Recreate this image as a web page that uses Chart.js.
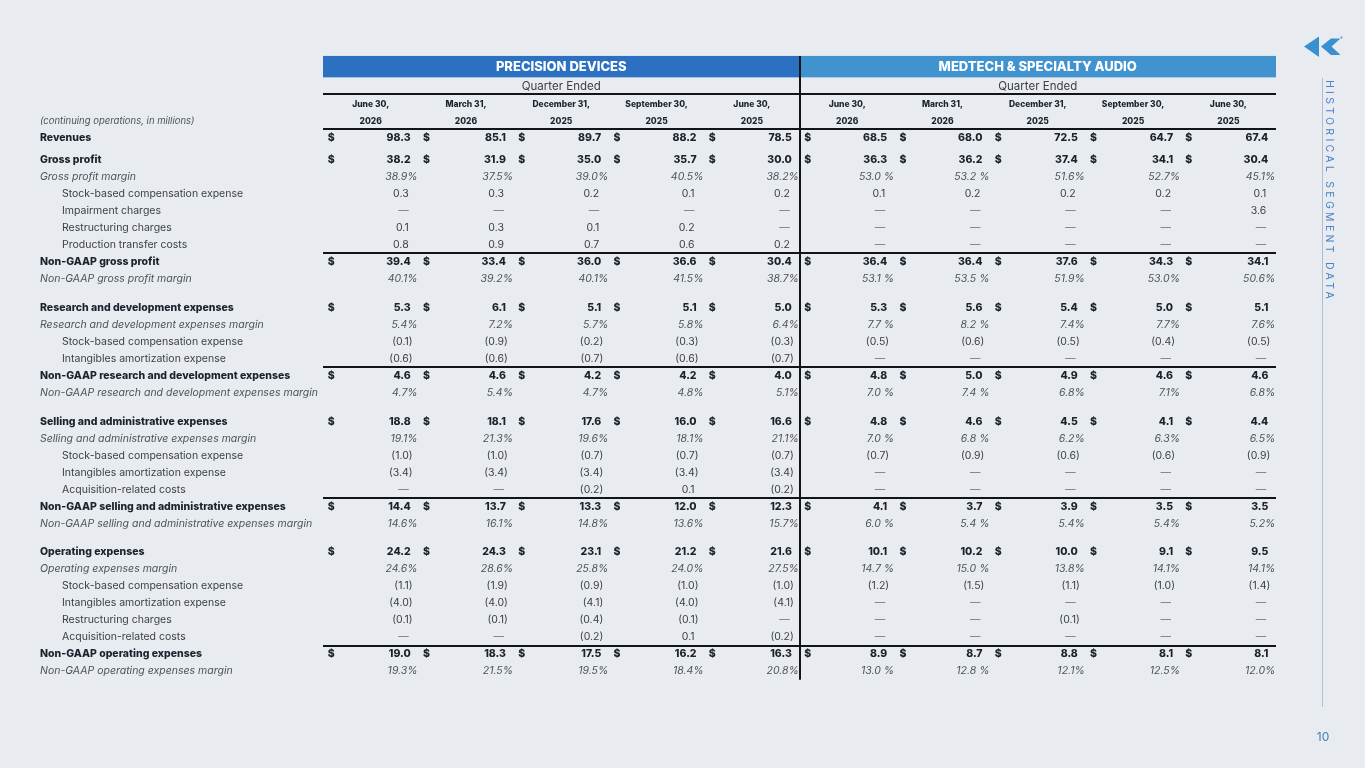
<!DOCTYPE html>
<html><head><meta charset="utf-8">
<script src="https://cdn.jsdelivr.net/npm/chart.js@4.4.1/dist/chart.umd.min.js"></script>
<style>
html,body{margin:0;padding:0;background:#e8ebf0;overflow:hidden;}
#wrap{position:relative;width:1365px;height:768px;}
</style></head><body>
<div id="wrap"><canvas id="c" width="1365" height="768"></canvas></div>
<script>
// ---------------- DATA ----------------
const segments = ['PRECISION DEVICES', 'MEDTECH & SPECIALTY AUDIO'];
const periodLabel = 'Quarter Ended';
const quarterDates = ['June 30,', 'March 31,', 'December 31,', 'September 30,', 'June 30,'];
const quarterYears = ['2026', '2026', '2025', '2025', '2025'];
const unitsNote = '(continuing operations, in millions)';
const sideTitle = 'HISTORICAL SEGMENT DATA';
const pageNumber = '10';

const rowLabels = [
  'Revenues',
  'Gross profit', 'Gross profit margin', 'Stock-based compensation expense', 'Impairment charges',
  'Restructuring charges', 'Production transfer costs', 'Non-GAAP gross profit', 'Non-GAAP gross profit margin',
  'Research and development expenses', 'Research and development expenses margin', 'Stock-based compensation expense',
  'Intangibles amortization expense', 'Non-GAAP research and development expenses', 'Non-GAAP research and development expenses margin',
  'Selling and administrative expenses', 'Selling and administrative expenses margin', 'Stock-based compensation expense',
  'Intangibles amortization expense', 'Acquisition-related costs', 'Non-GAAP selling and administrative expenses',
  'Non-GAAP selling and administrative expenses margin',
  'Operating expenses', 'Operating expenses margin', 'Stock-based compensation expense', 'Intangibles amortization expense',
  'Restructuring charges', 'Acquisition-related costs', 'Non-GAAP operating expenses', 'Non-GAAP operating expenses margin'
];
// 'total' = dollar amount, 'ratio' = percent of revenue, 'item' = adjustment line
const rowKinds = [
  'total',
  'total', 'ratio', 'item', 'item', 'item', 'item', 'total', 'ratio',
  'total', 'ratio', 'item', 'item', 'total', 'ratio',
  'total', 'ratio', 'item', 'item', 'item', 'total', 'ratio',
  'total', 'ratio', 'item', 'item', 'item', 'item', 'total', 'ratio'
];

// values: 5 quarters Precision Devices, then 5 quarters MedTech & Specialty Audio (null = dash)
const revenues        = [98.3, 85.1, 89.7, 88.2, 78.5,   68.5, 68.0, 72.5, 64.7, 67.4];
const grossProfit     = [38.2, 31.9, 35.0, 35.7, 30.0,   36.3, 36.2, 37.4, 34.1, 30.4];
const grossMargin     = [38.9, 37.5, 39.0, 40.5, 38.2,   53.0, 53.2, 51.6, 52.7, 45.1];
const gpStockComp     = [0.3, 0.3, 0.2, 0.1, 0.2,        0.1, 0.2, 0.2, 0.2, 0.1];
const gpImpairment    = [null, null, null, null, null,   null, null, null, null, 3.6];
const gpRestructuring = [0.1, 0.3, 0.1, 0.2, null,       null, null, null, null, null];
const gpTransfer      = [0.8, 0.9, 0.7, 0.6, 0.2,        null, null, null, null, null];
const ngGrossProfit   = [39.4, 33.4, 36.0, 36.6, 30.4,   36.4, 36.4, 37.6, 34.3, 34.1];
const ngGrossMargin   = [40.1, 39.2, 40.1, 41.5, 38.7,   53.1, 53.5, 51.9, 53.0, 50.6];
const rdExpenses      = [5.3, 6.1, 5.1, 5.1, 5.0,        5.3, 5.6, 5.4, 5.0, 5.1];
const rdMargin        = [5.4, 7.2, 5.7, 5.8, 6.4,        7.7, 8.2, 7.4, 7.7, 7.6];
const rdStockComp     = [-0.1, -0.9, -0.2, -0.3, -0.3,   -0.5, -0.6, -0.5, -0.4, -0.5];
const rdAmortization  = [-0.6, -0.6, -0.7, -0.6, -0.7,   null, null, null, null, null];
const ngRd            = [4.6, 4.6, 4.2, 4.2, 4.0,        4.8, 5.0, 4.9, 4.6, 4.6];
const ngRdMargin      = [4.7, 5.4, 4.7, 4.8, 5.1,        7.0, 7.4, 6.8, 7.1, 6.8];
const saExpenses      = [18.8, 18.1, 17.6, 16.0, 16.6,   4.8, 4.6, 4.5, 4.1, 4.4];
const saMargin        = [19.1, 21.3, 19.6, 18.1, 21.1,   7.0, 6.8, 6.2, 6.3, 6.5];
const saStockComp     = [-1.0, -1.0, -0.7, -0.7, -0.7,   -0.7, -0.9, -0.6, -0.6, -0.9];
const saAmortization  = [-3.4, -3.4, -3.4, -3.4, -3.4,   null, null, null, null, null];
const saAcquisition   = [null, null, -0.2, 0.1, -0.2,    null, null, null, null, null];
const ngSa            = [14.4, 13.7, 13.3, 12.0, 12.3,   4.1, 3.7, 3.9, 3.5, 3.5];
const ngSaMargin      = [14.6, 16.1, 14.8, 13.6, 15.7,   6.0, 5.4, 5.4, 5.4, 5.2];
const opExpenses      = [24.2, 24.3, 23.1, 21.2, 21.6,   10.1, 10.2, 10.0, 9.1, 9.5];
const opMargin        = [24.6, 28.6, 25.8, 24.0, 27.5,   14.7, 15.0, 13.8, 14.1, 14.1];
const opStockComp     = [-1.1, -1.9, -0.9, -1.0, -1.0,   -1.2, -1.5, -1.1, -1.0, -1.4];
const opAmortization  = [-4.0, -4.0, -4.1, -4.0, -4.1,   null, null, null, null, null];
const opRestructuring = [-0.1, -0.1, -0.4, -0.1, null,   null, null, -0.1, null, null];
const opAcquisition   = [null, null, -0.2, 0.1, -0.2,    null, null, null, null, null];
const ngOp            = [19.0, 18.3, 17.5, 16.2, 16.3,   8.9, 8.7, 8.8, 8.1, 8.1];
const ngOpMargin      = [19.3, 21.5, 19.5, 18.4, 20.8,   13.0, 12.8, 12.1, 12.5, 12.0];

const rowValues = [
  revenues,
  grossProfit, grossMargin, gpStockComp, gpImpairment, gpRestructuring, gpTransfer, ngGrossProfit, ngGrossMargin,
  rdExpenses, rdMargin, rdStockComp, rdAmortization, ngRd, ngRdMargin,
  saExpenses, saMargin, saStockComp, saAmortization, saAcquisition, ngSa, ngSaMargin,
  opExpenses, opMargin, opStockComp, opAmortization, opRestructuring, opAcquisition, ngOp, ngOpMargin
];

// column keys (category axis)
const columnKeys = [];
segments.forEach((s, si) => quarterDates.forEach((d, qi) => columnKeys.push(si + ':' + d + ' ' + quarterYears[qi])));

// ---------------- LAYOUT (not data) ----------------
const PCT_SEP = ['', '', '', '', '', ' ', ' ', '', '', ''];
// extra spacing (in row units) before each row
const rowGap = rowLabels.map((l, i) => {
  if (i === 1) return 0.31;
  if (i > 1 && rowKinds[i] === 'total' && rowKinds[i - 1] === 'ratio') return 0.69;
  return 0;
});
const rowPos = [];
rowLabels.forEach((l, i) => rowPos.push(i === 0 ? 0 : rowPos[i - 1] + 1 + rowGap[i]));

const FONT = 'Inter, "Noto Sans", sans-serif';
const C_BOLD = '#1b222c', C_REG = '#3a3f46', C_ITAL = '#4d535b', C_RULE = '#121417';
const BOLD = '800 10.5px ' + FONT;

const tablePlugin = {
  id: 'tableDraw',
  beforeDraw(chart) {
    const ctx = chart.ctx;
    ctx.save();
    ctx.fillStyle = '#e8ebf0';
    ctx.fillRect(0, 0, chart.width, chart.height);
    ctx.restore();
  },
  afterDraw(chart) {
    const { ctx, chartArea, scales: { x, y } } = chart;
    const L = chartArea.left, R = chartArea.right;
    const mid = (x.getPixelForValue(4) + x.getPixelForValue(5)) / 2;
    ctx.save();
    ctx.textBaseline = 'middle';

    // segment header bars
    const barTop = y.getPixelForValue(-4.81), barBot = y.getPixelForValue(-3.55);
    ctx.fillStyle = '#2c71c1';
    ctx.fillRect(L, barTop, mid - L, barBot - barTop);
    ctx.fillStyle = '#4193d0';
    ctx.fillRect(mid, barTop, R - mid, barBot - barTop);
    ctx.fillStyle = '#ffffff';
    ctx.font = '800 13px ' + FONT;
    ctx.textAlign = 'center';
    ctx.fillText(segments[0], (L + mid) / 2, (barTop + barBot) / 2 + 0.5);
    ctx.fillText(segments[1], (mid + R) / 2, (barTop + barBot) / 2 + 0.5);

    // Quarter Ended
    ctx.fillStyle = '#3a3f46';
    ctx.font = '400 11.5px ' + FONT;
    const qy = y.getPixelForValue(-3.03);
    ctx.fillText(periodLabel, (L + mid) / 2, qy);
    ctx.fillText(periodLabel, (mid + R) / 2, qy);

    // column headers
    ctx.fillStyle = C_BOLD;
    ctx.font = '800 8.5px ' + FONT;
    columnKeys.forEach((k, c) => {
      const cx = x.getPixelForValue(c);
      ctx.fillText(quarterDates[c % 5], cx, y.getPixelForValue(-1.98));
      ctx.fillText(quarterYears[c % 5], cx, y.getPixelForValue(-0.98));
    });

    // units note
    ctx.textAlign = 'left';
    ctx.fillStyle = C_ITAL;
    ctx.font = 'italic 400 9.5px ' + FONT;
    ctx.fillText(unitsNote, 40, y.getPixelForValue(-0.98));

    // rules
    ctx.strokeStyle = C_RULE;
    ctx.lineWidth = 2;
    const hRule = (v) => {
      const py = Math.round(y.getPixelForValue(v));
      ctx.beginPath(); ctx.moveTo(L, py); ctx.lineTo(R, py); ctx.stroke();
    };
    hRule(-2.55);
    hRule(-0.5);
    rowLabels.forEach((l, i) => {
      if (rowKinds[i] === 'total' && l.indexOf('Non-GAAP') === 0) hRule(rowPos[i] - 0.5);
    });
    // divider
    ctx.beginPath();
    ctx.moveTo(Math.round(mid), barTop);
    ctx.lineTo(Math.round(mid), y.getPixelForValue(rowPos[rowPos.length - 1] + 0.5));
    ctx.stroke();

    // rows
    rowLabels.forEach((label, i) => {
      const py = y.getPixelForValue(rowPos[i]);
      const kind = rowKinds[i];
      ctx.textAlign = 'left';
      if (kind === 'total') { ctx.font = BOLD; ctx.fillStyle = C_BOLD; ctx.fillText(label, 40, py); }
      else if (kind === 'ratio') { ctx.font = 'italic 400 10.5px ' + FONT; ctx.fillStyle = C_ITAL; ctx.fillText(label, 40, py); }
      else { ctx.font = '400 10.5px ' + FONT; ctx.fillStyle = C_REG; ctx.fillText(label, 62, py); }

      rowValues[i].forEach((v, c) => {
        const cx = x.getPixelForValue(c);
        if (kind === 'total') {
          ctx.font = BOLD; ctx.fillStyle = C_BOLD;
          ctx.textAlign = 'left'; ctx.fillText('$', cx - 43, py);
          ctx.textAlign = 'right'; ctx.fillText(v.toFixed(1), cx + 40, py);
        } else if (kind === 'ratio') {
          ctx.font = 'italic 400 10.5px ' + FONT; ctx.fillStyle = C_ITAL;
          ctx.textAlign = 'right'; ctx.fillText(v.toFixed(1) + PCT_SEP[c] + '%', cx + 47, py);
        } else {
          ctx.font = '400 10.5px ' + FONT; ctx.fillStyle = C_REG; ctx.textAlign = 'right';
          if (v === null) { ctx.fillStyle = '#737880'; ctx.fillText('\u2014', cx + 38, py); }
          else if (v < 0) ctx.fillText('(' + Math.abs(v).toFixed(1) + ')', cx + 42, py);
          else ctx.fillText(v.toFixed(1), cx + 38, py);
        }
      });
    });

    // side decoration
    ctx.strokeStyle = '#b1bfd4';
    ctx.lineWidth = 1;
    ctx.beginPath(); ctx.moveTo(1322.5, 78); ctx.lineTo(1322.5, 707); ctx.stroke();
    ctx.save();
    ctx.translate(1329.5, 80);
    ctx.rotate(Math.PI / 2);
    ctx.fillStyle = '#4a84c6';
    ctx.font = '400 10.5px ' + FONT;
    ctx.textAlign = 'left';
    try { ctx.letterSpacing = '3.3px'; } catch (e) {}
    ctx.fillText(sideTitle, 0, 0);
    ctx.restore();
    ctx.fillStyle = '#3f7ec2';
    ctx.font = '400 12px ' + FONT;
    ctx.textAlign = 'center';
    ctx.fillText(pageNumber, 1323, 737);

    // logo
    ctx.fillStyle = '#3a8fd0';
    ctx.beginPath();
    ctx.moveTo(1304, 46.5); ctx.lineTo(1319, 36.5); ctx.lineTo(1319, 57); ctx.closePath(); ctx.fill();
    ctx.beginPath();
    ctx.moveTo(1321, 46.5); ctx.lineTo(1331, 38.5); ctx.lineTo(1340.5, 38.5); ctx.lineTo(1331.5, 46.5);
    ctx.lineTo(1340.5, 55); ctx.lineTo(1331, 55); ctx.closePath(); ctx.fill();
    ctx.beginPath(); ctx.arc(1341.5, 37.5, 0.9, 0, Math.PI * 2); ctx.fill();

    ctx.restore();
  }
};

new Chart(document.getElementById('c'), {
  type: 'bar',
  data: { labels: columnKeys, datasets: [{ data: [], backgroundColor: 'rgba(0,0,0,0)' }] },
  options: {
    responsive: false,
    animation: false,
    devicePixelRatio: 1,
    layout: { padding: { left: 323, right: 89, top: 0, bottom: 0 } },
    plugins: { legend: { display: false }, tooltip: { enabled: false } },
    scales: {
      x: { type: 'category', offset: true, display: false, grid: { display: false } },
      y: { type: 'linear', min: -8.1, max: -8.1 + 768 / 17, reverse: true, display: false, grid: { display: false } }
    }
  },
  plugins: [tablePlugin]
});
</script>
</body></html>
